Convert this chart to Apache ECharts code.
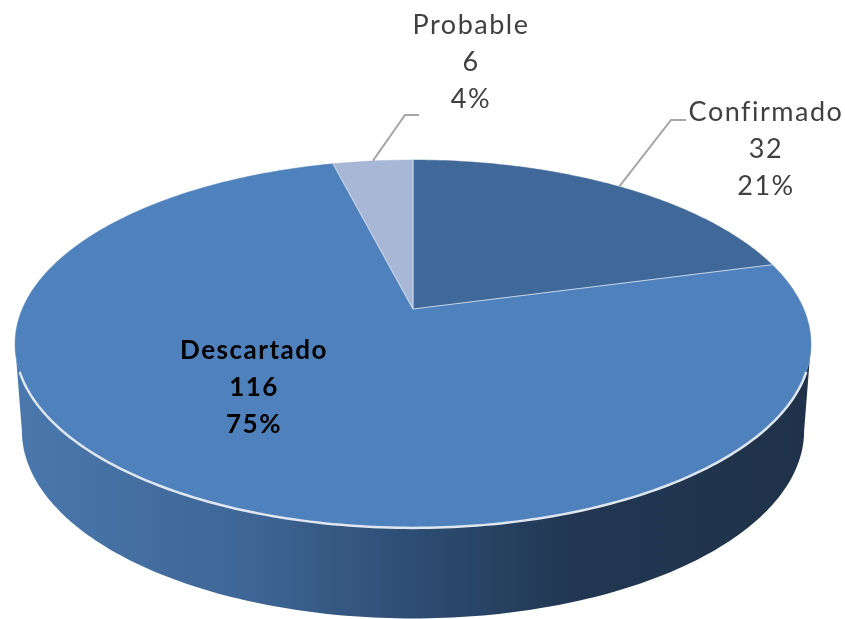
<!DOCTYPE html>
<html>
<head>
<meta charset="utf-8">
<script src="https://cdn.jsdelivr.net/npm/echarts@6/dist/echarts.min.js"></script>
<style>
html, body { margin: 0; padding: 0; background: #fff; }
#main { width: 845px; height: 619px; }
</style>
</head>
<body>
<div id="main"></div>
<script>
var categories = ['Confirmado', 'Descartado', 'Probable'];
var values = [32, 116, 6];
var sliceColors = ['#406899', '#4f81bd', '#a8b7d6'];
var total = values.reduce(function (a, b) { return a + b; }, 0);

// perspective of the tilted disc: k = depth, top / bottom = the two faces
var k = 0.19;
var topFace = { a: 390.7, b: 177.3, dy: 0 };
var bottomFace = { a: 384, b: 181, dy: -86 };

function project(face, angle) {
    var x = Math.sin(angle), y = Math.cos(angle);
    var w = 1 + k * y;
    return [face.a * x / w, face.b * y / w + face.dy];
}

function arc(face, from, to, api) {
    var pts = [];
    var n = Math.max(2, Math.ceil(Math.abs(to - from) * 60));
    for (var i = 0; i <= n; i++) {
        pts.push(api.coord(project(face, from + (to - from) * i / n)));
    }
    return pts;
}

function startAngle(index) {
    var sum = 0;
    for (var i = 0; i < index; i++) sum += values[i];
    return sum / total * Math.PI * 2;
}

// 标签位置: pie units, apex = 0,0
var labelAt = [[353, 160], [-159, -79], [58, 247]];
var elbow = [[[258, 189], [273, 189]], null, [[-8, 194], [6, 194]]];
var labelColor = ['#404040', '#000000', '#404040'];
var labelWeight = ['normal', 'bold', 'normal'];
var labelSize = [27, 26, 27];

function renderSlice(params, api) {
    var i = params.dataIndex;
    var from = startAngle(i);
    var to = from + api.value(1) / total * Math.PI * 2;
    var apex = api.coord([0, 0]);
    var children = [{
        type: 'polygon',
        shape: { points: [apex].concat(arc(topFace, from, to, api)) },
        style: { fill: sliceColors[i], stroke: sliceColors[i], lineWidth: 0.5 }
    }, {
        type: 'line',
        z2: 3,
        shape: {
            x1: apex[0], y1: apex[1],
            x2: api.coord(project(topFace, from))[0],
            y2: api.coord(project(topFace, from))[1]
        },
        style: { stroke: '#c3d2e6', lineWidth: 1.2 }
    }];
    if (elbow[i]) {
        var mid = project(topFace, (from + to) / 2);
        children.push({
            type: 'polyline',
            z2: 5,
            shape: { points: [api.coord(mid), api.coord(elbow[i][0]), api.coord(elbow[i][1])] },
            style: { fill: null, stroke: '#a6a6a6', lineWidth: 2 }
        });
    }
    var p = api.coord(labelAt[i]);
    children.push({
        type: 'text',
        z2: 10,
        x: p[0],
        y: p[1],
        style: {
            text: categories[i] + '\n' + values[i] + '\n' + Math.round(values[i] / total * 100) + '%',
            fill: labelColor[i],
            fontFamily: 'Lato',
            fontWeight: labelWeight[i],
            fontSize: labelSize[i],
            lineHeight: 37,
            align: 'center',
            verticalAlign: 'middle'
        }
    });
    return { type: 'group', children: children };
}

function renderSide(params, api) {
    var from = Math.acos(-k), to = Math.PI * 2 - from;
    return {
        type: 'polygon',
        shape: { points: arc(topFace, from, to, api).concat(arc(bottomFace, to, from, api)) },
        style: {
            fill: new echarts.graphic.LinearGradient(0, 0, 1, 0, [
                { offset: 0, color: '#4a78ad' },
                { offset: 0.3, color: '#3e6594' },
                { offset: 0.5, color: '#2e4d73' },
                { offset: 0.7, color: '#213752' },
                { offset: 1, color: '#1f3249' }
            ])
        }
    };
}

// white rim along the front edge
function renderRim(params, api) {
    return {
        type: 'polyline',
        shape: { points: arc(topFace, 1.91, Math.PI * 2 - 1.91, api) },
        style: { fill: null, stroke: '#dfe6ef', lineWidth: 2.5 }
    };
}

var chart = echarts.init(document.getElementById('main'));
// the reference text is spaced out, canvas can do that natively
chart.getZr().painter.getLayer(0).ctx.letterSpacing = '1.5px';
chart.setOption({
    animation: false,
    backgroundColor: '#fff',
    grid: { left: 15, right: 34, top: 160, bottom: 91 },
    xAxis: { type: 'value', min: -398, max: 398, show: false },
    yAxis: { type: 'value', min: -219, max: 149, show: false },
    series: [{
        type: 'custom',
        name: 'side',
        z: 1,
        renderItem: renderSide,
        data: [[0]],
        silent: true
    }, {
        type: 'custom',
        name: 'slices',
        z: 2,
        renderItem: renderSlice,
        encode: { x: 0, y: 1 },
        data: categories.map(function (c, i) { return [i, values[i]]; })
    }, {
        type: 'custom',
        name: 'rim',
        z: 3,
        renderItem: renderRim,
        data: [[0]],
        silent: true
    }]
});
</script>
</body>
</html>
